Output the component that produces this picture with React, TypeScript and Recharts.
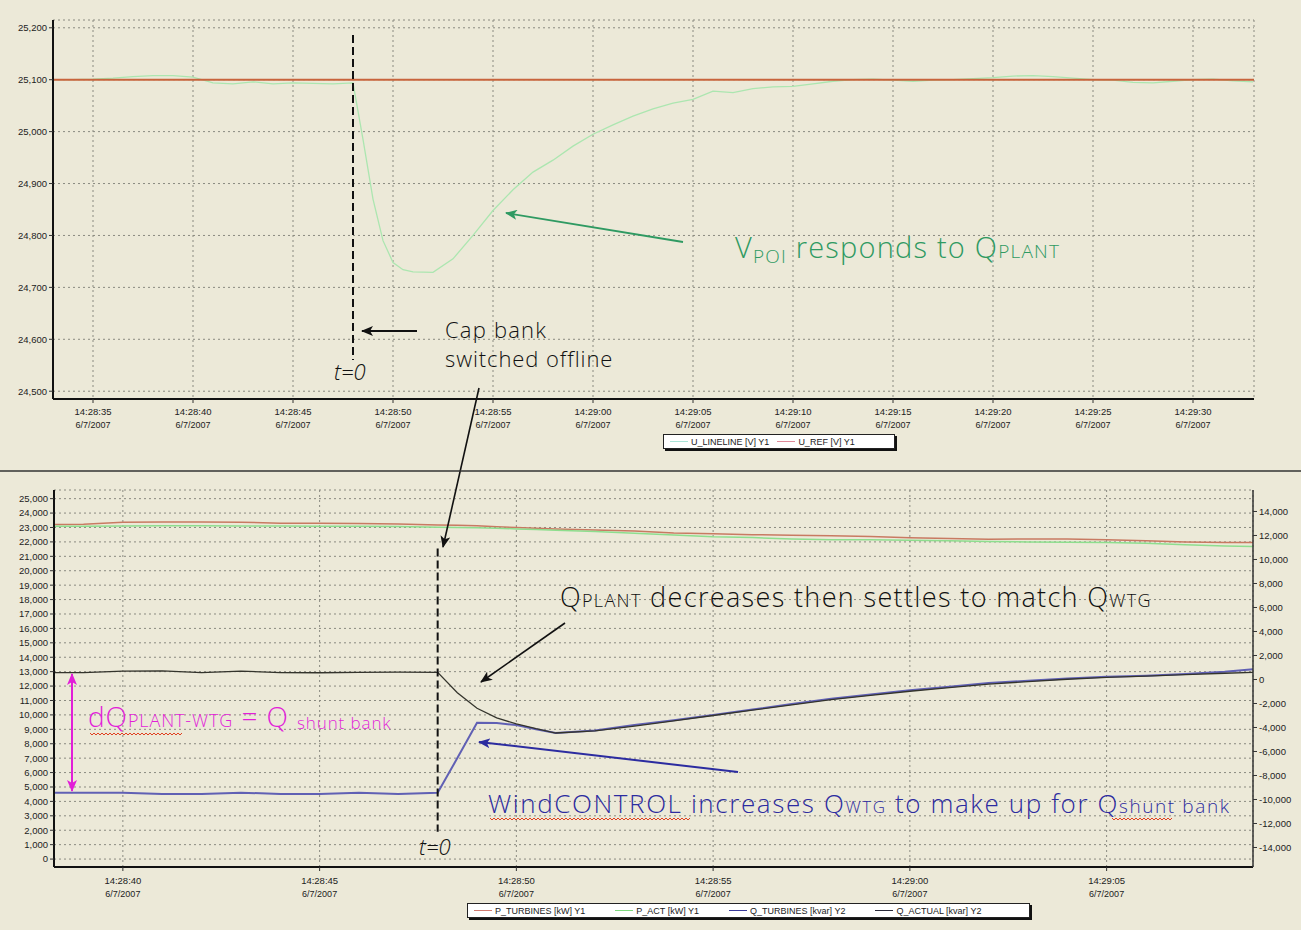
import { LineChart, Line, XAxis, YAxis, CartesianGrid, ReferenceLine } from "recharts"

const BG = "#ece9d8"
const GRID = "#8a8a80"
const EVENT_T = 48
const DATE_LABEL = "6/7/2007"

// x values are seconds after 14:28:00

// upper panel: voltage at the POI
const vTimes = [
  33, 34, 35, 36, 37, 38, 39, 40, 41, 42, 43, 44, 45, 46, 47, 48, 48.5, 49, 49.5, 50, 50.5, 51, 52, 53, 54, 55, 56, 57, 58,
  59, 60, 61, 62, 63, 64, 65, 66, 67, 68, 69, 70, 71, 72, 73, 74, 75, 76, 77, 78, 79, 80, 81, 82, 83, 84, 85, 86, 87, 88,
  89, 90, 91, 92, 93,
]
const uLineLine = [
  25100, 25100, 25101, 25103, 25106, 25108, 25108, 25105, 25094, 25092, 25096, 25092, 25094, 25093, 25092, 25094, 24985,
  24870, 24790, 24748, 24734, 24730, 24729, 24755, 24800, 24848, 24888, 24922, 24945, 24972, 24995, 25013, 25030, 25044,
  25055, 25062, 25078, 25075, 25083, 25086, 25087, 25092, 25097, 25100, 25101, 25099, 25097, 25099, 25100, 25102, 25104,
  25107, 25108, 25106, 25103, 25100, 25099, 25095, 25094, 25097, 25100, 25101, 25098, 25096,
]
const refTimes = [33, 93.05]
const uRef = [25100, 25100]
const vTickTimes = [35, 40, 45, 50, 55, 60, 65, 70, 75, 80, 85, 90]
const vTickLabels = [
  "14:28:35", "14:28:40", "14:28:45", "14:28:50", "14:28:55", "14:29:00",
  "14:29:05", "14:29:10", "14:29:15", "14:29:20", "14:29:25", "14:29:30",
]
const vYTicks = [24500, 24600, 24700, 24800, 24900, 25000, 25100, 25200]

// lower panel: active and reactive power
const pTimes = [
  38.25, 39, 40, 41, 42, 43, 44, 45, 46, 47, 48, 48.5, 49, 49.5, 50, 50.5, 51, 52, 53, 54, 55, 56, 57, 58, 59, 60, 61, 62,
  63, 64, 65, 66, 67, 68, 68.72,
]
const pTurbines = [
  23200, 23220, 23360, 23380, 23380, 23370, 23300, 23290, 23280, 23250, 23180, 23150, 23120, 23050, 23000, 22950, 22900,
  22830, 22760, 22620, 22560, 22500, 22460, 22430, 22380, 22280, 22240, 22180, 22200, 22200, 22150, 22080, 21990, 21960,
  21950,
]
const pAct = [
  23080, 23080, 23100, 23120, 23120, 23110, 23100, 23090, 23080, 23060, 23020, 23000, 22980, 22950, 22900, 22860, 22800,
  22720, 22600, 22480, 22350, 22300, 22200, 22150, 22150, 22120, 22080, 22020, 22000, 21980, 21950, 21900, 21800, 21720,
  21680,
]
const qTurbines = [
  -9430, -9430, -9430, -9540, -9540, -9430, -9540, -9540, -9430, -9540, -9430, -6550, -3600, -3620, -3800, -4150, -4450,
  -4250, -3800, -3400, -2950, -2500, -2050, -1600, -1250, -900, -600, -300, -100, 80, 220, 320, 450, 650, 850,
]
const qActual = [
  570, 570, 700, 710, 570, 700, 570, 560, 600, 620, 600, -1100, -2400, -3200, -3700, -4100, -4460, -4280, -3880, -3450,
  -3000, -2560, -2120, -1680, -1320, -980, -680, -380, -180, 20, 170, 280, 400, 520, 600,
]
const pTickTimes = [40, 45, 50, 55, 60, 65]
const pTickLabels = ["14:28:40", "14:28:45", "14:28:50", "14:28:55", "14:29:00", "14:29:05"]
const leftTicks = [
  0, 1000, 2000, 3000, 4000, 5000, 6000, 7000, 8000, 9000, 10000, 11000, 12000, 13000, 14000, 15000, 16000, 17000, 18000,
  19000, 20000, 21000, 22000, 23000, 24000, 25000,
]
const rightTicks = [
  -14000, -12000, -10000, -8000, -6000, -4000, -2000, 0, 2000, 4000, 6000, 8000, 10000, 12000, 14000,
]

const fmt = (v: number) => v.toLocaleString("en-US")
const tickStyle = { fontSize: 9.5, fill: "#222", fontFamily: "Liberation Sans, Arial, sans-serif" }

function makeTimeTick(times: number[], labels: string[], dy: number) {
  return function TimeTick(props: any) {
    const { x, y, payload } = props
    const label = labels[times.indexOf(payload.value)]
    return (
      <g transform={`translate(${x},${y})`}>
        <text textAnchor="middle" y={dy} {...tickStyle}>{label}</text>
        <text textAnchor="middle" y={dy + 13} {...tickStyle} fontSize={9}>{DATE_LABEL}</text>
      </g>
    )
  }
}

function VoltageChart() {
  const data = vTimes.map((t, i) => ({ t, u: uLineLine[i] }))
  const refData = refTimes.map((t, i) => ({ t, r: uRef[i] }))
  return (
    <LineChart width={1301} height={460} margin={{ top: 20, right: 47, bottom: 21, left: 0 }}>
      <CartesianGrid stroke={GRID} strokeDasharray="2 3" />
      <XAxis
        dataKey="t"
        type="number"
        domain={[33, 93.05]}
        ticks={vTickTimes}
        interval={0}
        allowDataOverflow
        height={40}
        tickSize={4}
        tick={makeTimeTick(vTickTimes, vTickLabels, 10)}
        axisLine={{ stroke: "#111", strokeWidth: 2 }}
        tickLine={{ stroke: "#333" }}
      />
      <XAxis xAxisId="frame" orientation="top" type="number" domain={[0, 1]} height={0} tick={false} tickLine={false} axisLine={{ stroke: "#444" }} />
      <YAxis
        type="number"
        domain={[24485, 25215]}
        ticks={vYTicks}
        interval={0}
        allowDataOverflow
        width={53}
        tickSize={4}
        tickFormatter={fmt}
        tick={tickStyle}
        axisLine={{ stroke: "#111", strokeWidth: 2 }}
        tickLine={{ stroke: "#333" }}
      />
      <YAxis yAxisId="frame" orientation="right" type="number" domain={[0, 1]} width={0} tick={false} tickLine={false} axisLine={{ stroke: "#333", strokeWidth: 1.5 }} />
      <Line data={data} dataKey="u" stroke="#ace6b0" strokeWidth={1.3} dot={false} isAnimationActive={false} />
      <Line data={refData} dataKey="r" stroke="#c8643c" strokeWidth={2} dot={false} isAnimationActive={false} />
      <ReferenceLine
        segment={[{ x: EVENT_T, y: 25186 }, { x: EVENT_T, y: 24560 }]}
        stroke="#111"
        strokeWidth={2}
        strokeDasharray="8 4"
      />
    </LineChart>
  )
}

function PowerChart() {
  const data = pTimes.map((t, i) => ({
    t,
    pTurb: pTurbines[i],
    pAct: pAct[i],
    qTurb: qTurbines[i],
    qAct: qActual[i],
  }))
  return (
    <LineChart width={1301} height={458} data={data} margin={{ top: 18, right: 0, bottom: 23, left: 0 }}>
      <CartesianGrid yAxisId="left" stroke={GRID} strokeDasharray="2 3" />
      <XAxis
        dataKey="t"
        type="number"
        domain={[38.25, 68.72]}
        ticks={pTickTimes}
        interval={0}
        allowDataOverflow
        height={40}
        tickSize={4}
        tick={makeTimeTick(pTickTimes, pTickLabels, 11)}
        axisLine={{ stroke: "#111", strokeWidth: 2 }}
        tickLine={{ stroke: "#333" }}
      />
      <XAxis xAxisId="frame" orientation="top" type="number" domain={[0, 1]} height={0} tick={false} tickLine={false} axisLine={{ stroke: "#444" }} />
      <YAxis
        yAxisId="left"
        type="number"
        domain={[-550, 25600]}
        ticks={leftTicks}
        interval={0}
        allowDataOverflow
        width={54}
        tickSize={4}
        tickFormatter={fmt}
        tick={tickStyle}
        axisLine={{ stroke: "#111", strokeWidth: 2 }}
        tickLine={{ stroke: "#333" }}
      />
      <YAxis
        yAxisId="right"
        orientation="right"
        type="number"
        domain={[-15625, 15790]}
        ticks={rightTicks}
        interval={0}
        allowDataOverflow
        width={48}
        tickSize={4}
        tickFormatter={fmt}
        tick={{ ...tickStyle, textAnchor: "start" }}
        axisLine={{ stroke: "#333", strokeWidth: 1.5 }}
        tickLine={{ stroke: "#333" }}
      />
      <Line yAxisId="left" dataKey="pTurb" stroke="#c87a62" strokeWidth={1.5} dot={false} isAnimationActive={false} />
      <Line yAxisId="left" dataKey="pAct" stroke="#8ede8e" strokeWidth={1.5} dot={false} isAnimationActive={false} />
      <Line yAxisId="right" dataKey="qTurb" stroke="#6060b4" strokeWidth={2} dot={false} isAnimationActive={false} />
      <Line yAxisId="right" dataKey="qAct" stroke="#34342c" strokeWidth={1.3} dot={false} isAnimationActive={false} />
      <ReferenceLine
        yAxisId="left"
        segment={[{ x: EVENT_T, y: 21550 }, { x: EVENT_T, y: 1900 }]}
        stroke="#111"
        strokeWidth={2}
        strokeDasharray="8 4"
      />
    </LineChart>
  )
}

type LegendItem = { label: string; color: string }

function LegendBox({ items, left, top, width, gap }: { items: LegendItem[]; left: number; top: number; width: number; gap: number }) {
  return (
    <div
      style={{
        position: "absolute",
        left,
        top,
        width,
        height: 15,
        background: "#fff",
        border: "1px solid #222",
        boxShadow: "2px 2px 0 #111",
        display: "flex",
        alignItems: "center",
        gap,
        paddingLeft: 6,
        boxSizing: "border-box",
        fontFamily: "Liberation Sans, Arial, sans-serif",
        fontSize: 9,
        color: "#222",
        whiteSpace: "nowrap",
      }}
    >
      {items.map((it) => (
        <span key={it.label} style={{ display: "flex", alignItems: "center" }}>
          <span style={{ display: "inline-block", width: 18, height: 0, borderTop: `1.5px solid ${it.color}`, marginRight: 3 }} />
          {it.label}
        </span>
      ))}
    </div>
  )
}

const vLegend: LegendItem[] = [
  { label: "U_LINELINE  [V] Y1", color: "#a9e4d8" },
  { label: "U_REF  [V] Y1", color: "#e08a9a" },
]
const pLegend: LegendItem[] = [
  { label: "P_TURBINES  [kW] Y1", color: "#d07a70" },
  { label: "P_ACT  [kW] Y1", color: "#7ed87e" },
  { label: "Q_TURBINES  [kvar] Y2", color: "#3a3a9a" },
  { label: "Q_ACTUAL  [kvar] Y2", color: "#2a2a3a" },
]

function wavy(x1: number, x2: number, y: number) {
  let d = `M${x1},${y}`
  for (let x = x1; x < x2; x += 4) d += ` L${x + 2},${y + 2} L${x + 4},${y}`
  return d
}

const NOTE_FONT = "Open Sans, DejaVu Sans, sans-serif"

function Annotations() {
  const green = "#2f9a62"
  const blue = "#2c2ca0"
  const magenta = "#e21fd8"
  return (
    <svg width={1301} height={930} style={{ position: "absolute", left: 0, top: 0, pointerEvents: "none" }}>
      <defs>
        {[
          ["ahBlack", "#111"],
          ["ahGreen", green],
          ["ahBlue", blue],
          ["ahMagenta", magenta],
        ].map(([id, c]) => (
          <marker key={id} id={id} viewBox="0 0 12 10" refX="11" refY="5" markerWidth="12" markerHeight="10" markerUnits="userSpaceOnUse" orient="auto-start-reverse">
            <path d="M0,0 L12,5 L0,10 L3,5 z" fill={c} />
          </marker>
        ))}
      </defs>

      {/* upper panel notes */}
      <line x1={683} y1={242} x2={506} y2={213} stroke={green} strokeWidth={1.8} markerEnd="url(#ahGreen)" />
      <text x={735} y={258} fill={green} fontFamily={NOTE_FONT} fontWeight={300} fontSize={29} letterSpacing={1.2}>
        V<tspan fontSize={19} dy={5}>POI</tspan>
        <tspan dy={-5}> responds to Q</tspan>
        <tspan fontSize={19}>PLANT</tspan>
      </text>
      <line x1={417} y1={331} x2={362} y2={331} stroke="#111" strokeWidth={1.8} markerEnd="url(#ahBlack)" />
      <text x={445} y={338} fill="#111" fontFamily={NOTE_FONT} fontWeight={300} fontSize={22} letterSpacing={1.2}>Cap bank</text>
      <text x={445} y={367} fill="#111" fontFamily={NOTE_FONT} fontWeight={300} fontSize={22} letterSpacing={0.9}>switched offline</text>
      <text x={334} y={380} fill="#111" fontFamily={NOTE_FONT} fontStyle="italic" fontWeight={300} fontSize={22}>t=0</text>
      <line x1={479} y1={388} x2={443} y2={547} stroke="#111" strokeWidth={1.6} markerEnd="url(#ahBlack)" />

      {/* panel separator */}
      <line x1={0} y1={471} x2={1301} y2={471} stroke="#333" strokeWidth={1.5} />

      {/* lower panel notes */}
      <text x={560} y={607} fill="#111" fontFamily={NOTE_FONT} fontWeight={300} fontSize={27} letterSpacing={1.35}>
        Q<tspan fontSize={18}>PLANT</tspan>
        <tspan> decreases then settles to match Q</tspan>
        <tspan fontSize={18}>WTG</tspan>
      </text>
      <line x1={565} y1={623} x2={481} y2={682} stroke="#111" strokeWidth={1.6} markerEnd="url(#ahBlack)" />

      <line x1={72} y1={674} x2={72} y2={791} stroke={magenta} strokeWidth={2} markerStart="url(#ahMagenta)" markerEnd="url(#ahMagenta)" />
      <text x={88} y={727} fill={magenta} fontFamily={NOTE_FONT} fontWeight={300} fontSize={28} letterSpacing={0.9}>
        dQ<tspan fontSize={18}>PLANT-WTG</tspan>
        <tspan> = Q </tspan>
        <tspan fontSize={17} dy={2}>shunt bank</tspan>
      </text>
      <path d={wavy(90, 182, 733)} stroke="#e04020" strokeWidth={1} fill="none" />

      <line x1={738} y1={772} x2={479} y2={742} stroke={blue} strokeWidth={2} markerEnd="url(#ahBlue)" />
      <text x={488} y={813} fill={blue} fontFamily={NOTE_FONT} fontWeight={300} fontSize={26} letterSpacing={1.6}>
        WindCONTROL increases Q<tspan fontSize={17}>WTG</tspan>
        <tspan> to make up for Q</tspan>
        <tspan fontSize={19}>shunt bank</tspan>
      </text>
      <path d={wavy(490, 688, 818)} stroke="#e04020" strokeWidth={1} fill="none" />
      <path d={wavy(1112, 1170, 818)} stroke="#e04020" strokeWidth={1} fill="none" />
      <text x={419} y={855} fill="#111" fontFamily={NOTE_FONT} fontStyle="italic" fontWeight={300} fontSize={22}>t=0</text>
    </svg>
  )
}

export default function App() {
  return (
    <div style={{ position: "absolute", left: 0, top: 0, width: 1301, height: 930, background: BG, overflow: "hidden" }}>
      <div style={{ position: "absolute", left: 0, top: 0 }}>
        <VoltageChart />
      </div>
      <div style={{ position: "absolute", left: 0, top: 472 }}>
        <PowerChart />
      </div>
      <LegendBox items={vLegend} left={663} top={434} width={232} gap={8} />
      <LegendBox items={pLegend} left={467} top={903} width={563} gap={30} />
      <Annotations />
    </div>
  )
}
